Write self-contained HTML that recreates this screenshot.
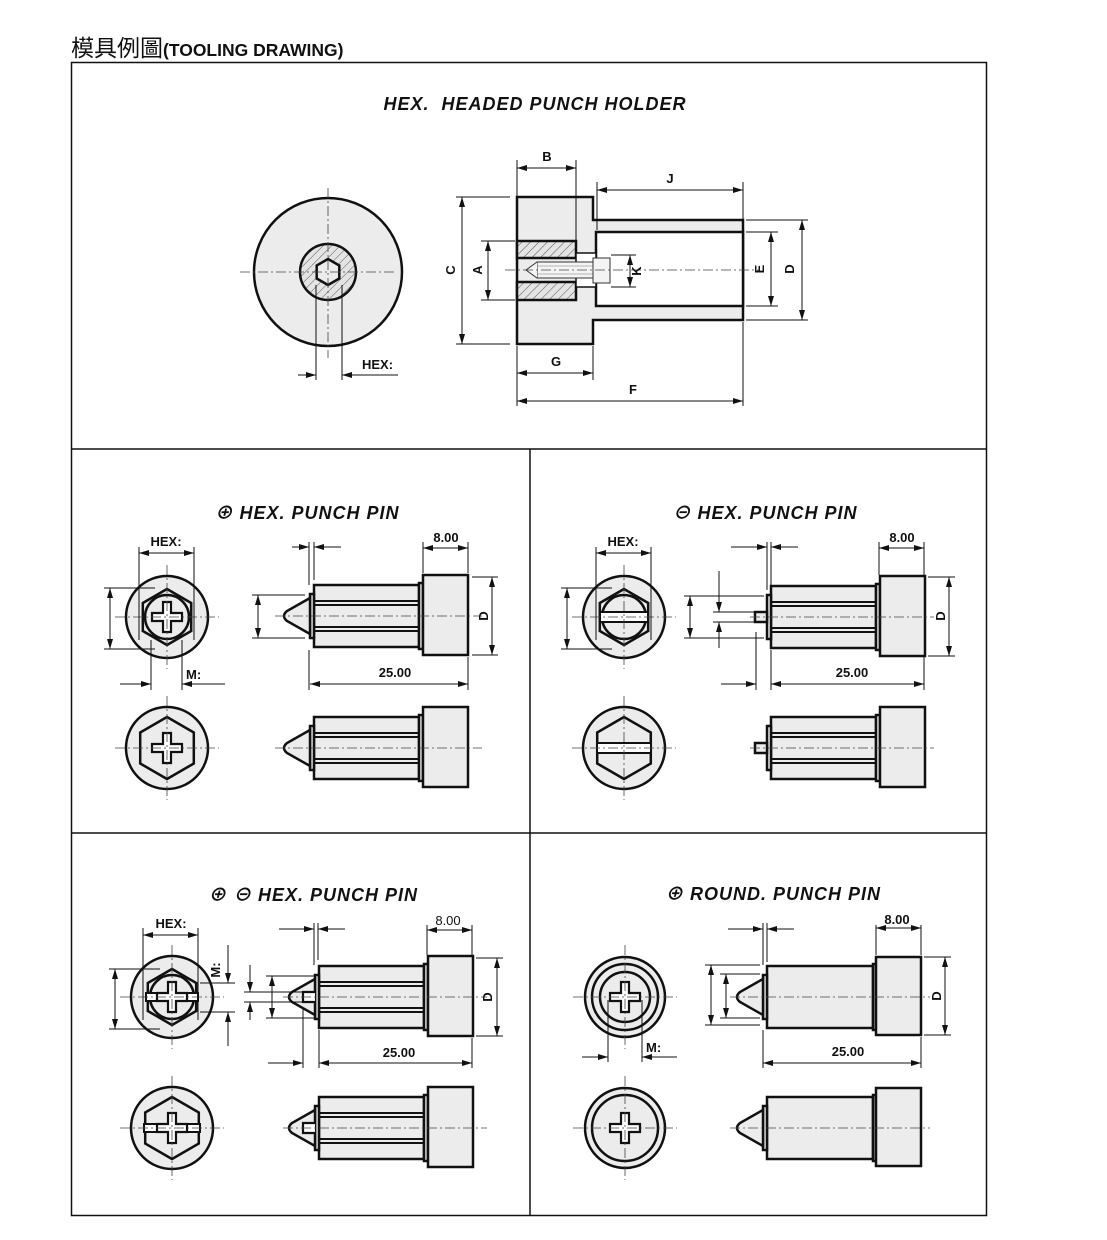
<!DOCTYPE html>
<html><head><meta charset="utf-8"><style>
html,body{margin:0;padding:0;background:#fff;}
svg{display:block;}
text{font-family:"Liberation Sans","Noto Sans CJK TC",sans-serif;font-weight:bold;fill:#111;}
.t{font-size:18px;font-style:italic;letter-spacing:1px;}
.d{font-size:13px;}
.o{stroke:#111;stroke-width:2.5;fill:#ececec;}
.w{stroke:#111;stroke-width:2.5;fill:#fff;}
.g{stroke:#111;stroke-width:1;fill:none;}
.c{stroke:#444;stroke-width:0.8;stroke-dasharray:10 3 2 3;fill:none;}
.a{stroke:#111;stroke-width:1;fill:none;marker-start:url(#ar);marker-end:url(#ar);}
.ae{stroke:#111;stroke-width:1;fill:none;marker-end:url(#ar);}
</style></head><body>
<svg width="1107" height="1240" viewBox="0 0 1107 1240" xmlns="http://www.w3.org/2000/svg">
<defs>
<marker id="ar" viewBox="0 0 10 6" refX="10" refY="3" markerWidth="14" markerHeight="6" markerUnits="userSpaceOnUse" orient="auto-start-reverse"><path d="M0,0 L10,3 L0,6 Z" fill="#111"/></marker>
<pattern id="h" width="6" height="6" patternUnits="userSpaceOnUse" patternTransform="rotate(45)"><rect width="6" height="6" fill="#e4e4e4"/><line x1="0" y1="0" x2="0" y2="6" stroke="#333" stroke-width="0.8"/></pattern>
<path id="cross" d="M-4,-15 H4 V-4 H15 V4 H4 V15 H-4 V4 H-15 V-4 H-4 Z" fill="#fff" stroke="#111" stroke-width="2.2"/>
<g id="body">
<rect class="o" x="0" y="-31" width="105" height="62"/>
<line x1="0" y1="-15" x2="105" y2="-15" stroke="#111" stroke-width="2"/>
<line x1="0" y1="-11" x2="105" y2="-11" stroke="#111" stroke-width="2"/>
<line x1="0" y1="11" x2="105" y2="11" stroke="#111" stroke-width="2"/>
<line x1="0" y1="15" x2="105" y2="15" stroke="#111" stroke-width="2"/>
<rect class="o" x="105" y="-33" width="4" height="66"/>
<rect class="o" x="109" y="-41" width="45" height="80"/>
</g>
<g id="rbody">
<rect class="o" x="0" y="-31" width="106" height="62"/>
<rect class="o" x="106" y="-33" width="3" height="66"/>
<rect class="o" x="109" y="-40" width="45" height="78"/>
</g>
<g id="cone">
<rect class="o" x="-4" y="-22" width="4" height="44"/>
<path class="o" d="M-4,-18 L-27,-5 Q-33,0 -27,5 L-4,18 Z"/>
</g>
<g id="stub">
<rect class="o" x="-4" y="-22" width="4" height="44"/>
<rect class="o" x="-16" y="-5" width="12" height="10"/>
</g>
<g id="conesl">
<rect class="o" x="-4" y="-22" width="4" height="44"/>
<path class="o" d="M-4,-18 L-27,-5 Q-33,0 -27,5 L-4,18 Z"/>
<path d="M-4,-5 H-16 V5 H-4" fill="#fff" stroke="#111" stroke-width="2.2"/>
</g>
<polygon id="hex28" class="o" points="0,-28 24.2,-14 24.2,14 0,28 -24.2,14 -24.2,-14"/>
<polygon id="hex30" class="o" points="0,-31 26.8,-15.5 26.8,15.5 0,31 -26.8,15.5 -26.8,-15.5"/>
<g id="cl"><line class="c" x1="-52" y1="0" x2="52" y2="0"/><line class="c" x1="0" y1="-52" x2="0" y2="52"/></g>
</defs>

<!-- title -->
<text x="71" y="56" style="font-size:23px;font-weight:normal">模具例圖<tspan style="font-size:17.5px;font-weight:bold">(TOOLING DRAWING)</tspan></text>

<!-- frame -->
<rect x="71.5" y="62.5" width="915" height="1153" fill="none" stroke="#111" stroke-width="1.5"/>
<line x1="72" y1="449" x2="986" y2="449" stroke="#111" stroke-width="1.5"/>
<line x1="72" y1="833" x2="986" y2="833" stroke="#111" stroke-width="1.5"/>
<line x1="530" y1="449" x2="530" y2="1216" stroke="#111" stroke-width="1.5"/>

<!-- TOP PANEL -->
<text class="t" x="535" y="110" text-anchor="middle">HEX.&#160; HEADED PUNCH HOLDER</text>
<circle class="o" cx="328" cy="272" r="74"/>
<circle cx="328" cy="272" r="28" fill="url(#h)" stroke="#111" stroke-width="2.5"/>
<polygon class="o" points="328,259 339.3,265.5 339.3,278.5 328,285 316.7,278.5 316.7,265.5" />
<line class="c" x1="240" y1="272" x2="395" y2="272"/><line class="c" x1="328" y1="188" x2="328" y2="358"/>
<line class="g" x1="316" y1="285" x2="316" y2="380"/><line class="g" x1="342" y1="285" x2="342" y2="380"/>
<line class="ae" x1="298" y1="375" x2="316" y2="375"/><line class="ae" x1="398" y1="375" x2="342" y2="375"/>
<text class="d" x="362" y="369">HEX:</text>

<path class="o" d="M517,197 H593 V220 H743 V320 H593 V344 H517 Z"/>
<rect class="w" x="596" y="232" width="147" height="74"/>
<rect x="517" y="241" width="59" height="17" fill="url(#h)" stroke="#111" stroke-width="2.5"/>
<rect x="517" y="282" width="59" height="18" fill="url(#h)" stroke="#111" stroke-width="2.5"/>
<rect class="w" x="576" y="253" width="20" height="34" style="stroke-width:1.5"/>
<rect x="537" y="262" width="56" height="16" fill="#f4f4f4" stroke="#333" stroke-width="1"/>
<line x1="537" y1="266" x2="593" y2="266" stroke="#777" stroke-width="0.6"/><line x1="537" y1="274" x2="593" y2="274" stroke="#777" stroke-width="0.6"/>
<path d="M537,262 L526,270 L537,278" fill="#f4f4f4" stroke="#333" stroke-width="1"/>
<rect x="593" y="258" width="17" height="25" fill="#f4f4f4" stroke="#333" stroke-width="1"/>
<line class="c" x1="505" y1="270" x2="760" y2="270"/>
<!-- dims -->
<line class="g" x1="517" y1="160" x2="517" y2="196"/><line class="g" x1="576" y1="160" x2="576" y2="240"/>
<line class="a" x1="517" y1="168" x2="576" y2="168"/><text class="d" x="547" y="161" text-anchor="middle">B</text>
<line class="g" x1="597" y1="182" x2="597" y2="230"/><line class="g" x1="743" y1="182" x2="743" y2="219"/>
<line class="a" x1="597" y1="190" x2="743" y2="190"/><text class="d" x="670" y="183" text-anchor="middle">J</text>
<line class="g" x1="456" y1="197" x2="510" y2="197"/><line class="g" x1="456" y1="344" x2="510" y2="344"/>
<line class="a" x1="462" y1="197" x2="462" y2="344"/><text class="d" transform="translate(455,270) rotate(-90)" text-anchor="middle">C</text>
<line class="g" x1="481" y1="241" x2="515" y2="241"/><line class="g" x1="481" y1="300" x2="515" y2="300"/>
<line class="a" x1="488" y1="241" x2="488" y2="300"/><text class="d" transform="translate(482,270) rotate(-90)" text-anchor="middle">A</text>
<line class="g" x1="611" y1="255" x2="636" y2="255"/><line class="g" x1="611" y1="287" x2="636" y2="287"/>
<line class="a" x1="630" y1="255" x2="630" y2="287"/><text class="d" transform="translate(641,271) rotate(-90)" text-anchor="middle">K</text>
<line class="g" x1="746" y1="232" x2="778" y2="232"/><line class="g" x1="746" y1="306" x2="778" y2="306"/>
<line class="a" x1="771" y1="232" x2="771" y2="306"/><text class="d" transform="translate(764,269) rotate(-90)" text-anchor="middle">E</text>
<line class="g" x1="746" y1="220" x2="808" y2="220"/><line class="g" x1="746" y1="320" x2="808" y2="320"/>
<line class="a" x1="802" y1="220" x2="802" y2="320"/><text class="d" transform="translate(794,269) rotate(-90)" text-anchor="middle">D</text>
<line class="g" x1="517" y1="346" x2="517" y2="406"/><line class="g" x1="593" y1="346" x2="593" y2="380"/><line class="g" x1="743" y1="322" x2="743" y2="406"/>
<line class="a" x1="517" y1="373" x2="593" y2="373"/><text class="d" x="556" y="366" text-anchor="middle">G</text>
<line class="a" x1="517" y1="401" x2="743" y2="401"/><text class="d" x="633" y="394" text-anchor="middle">F</text>

<!-- PANEL 1: + HEX -->
<text class="t" x="307" y="519" text-anchor="middle">⊕ HEX. PUNCH PIN</text>
<g>
<circle class="o" cx="167" cy="617" r="41"/><use href="#hex28" x="167" y="617"/><circle class="o" cx="167" cy="617" r="22"/><use href="#cross" x="167" y="617"/><use href="#cl" x="167" y="617"/>
<line class="g" x1="139" y1="547" x2="139" y2="640"/><line class="g" x1="194" y1="547" x2="194" y2="640"/>
<line class="a" x1="139" y1="553" x2="194" y2="553"/><text class="d" x="166" y="546" text-anchor="middle">HEX:</text>
<line class="g" x1="104" y1="588" x2="155" y2="588"/><line class="g" x1="104" y1="649" x2="155" y2="649"/>
<line class="a" x1="110" y1="588" x2="110" y2="649"/>
<line class="g" x1="151" y1="640" x2="151" y2="690"/><line class="g" x1="182" y1="640" x2="182" y2="690"/>
<line class="ae" x1="120" y1="684" x2="151" y2="684"/><line class="ae" x1="225" y1="684" x2="182" y2="684"/>
<text class="d" x="186" y="679">M:</text>
<use href="#body" x="314" y="616"/><use href="#cone" x="314" y="616"/>
<line class="c" x1="275" y1="616" x2="482" y2="616"/>
<line class="g" x1="309" y1="542" x2="309" y2="585"/><line class="g" x1="314" y1="542" x2="314" y2="580"/>
<line class="ae" x1="292" y1="547" x2="309" y2="547"/><line class="ae" x1="341" y1="547" x2="314" y2="547"/>
<line class="g" x1="423" y1="542" x2="423" y2="573"/><line class="g" x1="468" y1="542" x2="468" y2="573"/>
<line class="a" x1="423" y1="548" x2="468" y2="548"/><text class="d" x="446" y="542" text-anchor="middle">8.00</text>
<line class="g" x1="472" y1="577" x2="498" y2="577"/><line class="g" x1="472" y1="655" x2="498" y2="655"/>
<line class="a" x1="492" y1="577" x2="492" y2="655"/><text class="d" transform="translate(488,616) rotate(-90)" text-anchor="middle">D</text>
<line class="g" x1="252" y1="595" x2="305" y2="595"/><line class="g" x1="252" y1="638" x2="305" y2="638"/>
<line class="a" x1="258" y1="595" x2="258" y2="638"/>
<line class="g" x1="309" y1="650" x2="309" y2="690"/><line class="g" x1="468" y1="657" x2="468" y2="690"/>
<line class="a" x1="310" y1="684" x2="468" y2="684"/><text class="d" x="395" y="677" text-anchor="middle">25.00</text>
<circle class="o" cx="167" cy="748" r="41"/><use href="#hex30" x="167" y="748"/><use href="#cross" x="167" y="748"/><use href="#cl" x="167" y="748"/>
<use href="#body" x="314" y="748"/><use href="#cone" x="314" y="748"/>
<line class="c" x1="275" y1="748" x2="482" y2="748"/>
</g>

<!-- PANEL 2: - HEX -->
<text class="t" x="765" y="519" text-anchor="middle">⊖ HEX. PUNCH PIN</text>
<g>
<circle class="o" cx="624" cy="617" r="41"/><use href="#hex28" x="624" y="617"/><circle class="o" cx="624" cy="617" r="22"/>
<rect class="w" x="600" y="612" width="48" height="10" style="stroke-width:2"/><use href="#cl" x="624" y="617"/>
<line class="g" x1="596" y1="547" x2="596" y2="640"/><line class="g" x1="651" y1="547" x2="651" y2="640"/>
<line class="a" x1="596" y1="553" x2="651" y2="553"/><text class="d" x="623" y="546" text-anchor="middle">HEX:</text>
<line class="g" x1="561" y1="588" x2="612" y2="588"/><line class="g" x1="561" y1="649" x2="612" y2="649"/>
<line class="a" x1="567" y1="588" x2="567" y2="649"/>
<use href="#body" x="771" y="617"/><use href="#stub" x="771" y="617"/>
<line class="c" x1="750" y1="617" x2="934" y2="617"/>
<line class="g" x1="767" y1="542" x2="767" y2="590"/><line class="g" x1="771" y1="542" x2="771" y2="585"/>
<line class="ae" x1="731" y1="547" x2="767" y2="547"/><line class="ae" x1="798" y1="547" x2="771" y2="547"/>
<line class="g" x1="879" y1="542" x2="879" y2="575"/><line class="g" x1="924" y1="542" x2="924" y2="575"/>
<line class="a" x1="879" y1="548" x2="924" y2="548"/><text class="d" x="902" y="542" text-anchor="middle">8.00</text>
<line class="g" x1="928" y1="577" x2="955" y2="577"/><line class="g" x1="928" y1="656" x2="955" y2="656"/>
<line class="a" x1="949" y1="577" x2="949" y2="656"/><text class="d" transform="translate(945,616) rotate(-90)" text-anchor="middle">D</text>
<line class="g" x1="684" y1="596" x2="764" y2="596"/><line class="g" x1="684" y1="638" x2="764" y2="638"/>
<line class="a" x1="690" y1="596" x2="690" y2="638"/>
<line class="g" x1="713" y1="612" x2="757" y2="612"/><line class="g" x1="713" y1="622" x2="757" y2="622"/>
<line class="ae" x1="719" y1="571" x2="719" y2="612"/><line class="ae" x1="719" y1="648" x2="719" y2="622"/>
<line class="g" x1="756" y1="632" x2="756" y2="690"/><line class="ae" x1="721" y1="684" x2="756" y2="684"/>
<line class="g" x1="771" y1="650" x2="771" y2="690"/><line class="g" x1="924" y1="657" x2="924" y2="690"/>
<line class="a" x1="771" y1="684" x2="924" y2="684"/><text class="d" x="852" y="677" text-anchor="middle">25.00</text>
<circle class="o" cx="624" cy="748" r="41"/><use href="#hex30" x="624" y="748"/>
<rect class="w" x="597" y="743" width="54" height="10" style="stroke-width:2"/><use href="#cl" x="624" y="748"/>
<use href="#body" x="771" y="748"/><use href="#stub" x="771" y="748"/>
<line class="c" x1="750" y1="748" x2="934" y2="748"/>
</g>

<!-- PANEL 3: +- HEX -->
<text class="t" x="313" y="901" text-anchor="middle">⊕ ⊖ HEX. PUNCH PIN</text>
<g>
<circle class="o" cx="172" cy="997" r="41"/><use href="#hex28" x="172" y="997"/><circle class="o" cx="172" cy="997" r="22"/>
<rect class="w" x="146" y="993" width="52" height="8" style="stroke-width:2"/><use href="#cross" x="172" y="997"/><use href="#cl" x="172" y="997"/>
<line class="g" x1="143" y1="928" x2="143" y2="1020"/><line class="g" x1="198" y1="928" x2="198" y2="1020"/>
<line class="a" x1="143" y1="935" x2="198" y2="935"/><text class="d" x="171" y="928" text-anchor="middle">HEX:</text>
<line class="g" x1="109" y1="969" x2="160" y2="969"/><line class="g" x1="109" y1="1029" x2="160" y2="1029"/>
<line class="a" x1="115" y1="969" x2="115" y2="1029"/>
<line class="g" x1="200" y1="983" x2="235" y2="983"/><line class="g" x1="200" y1="1012" x2="235" y2="1012"/>
<line class="ae" x1="228" y1="945" x2="228" y2="983"/><line class="ae" x1="228" y1="1046" x2="228" y2="1012"/>
<text class="d" transform="translate(220,970) rotate(-90)" text-anchor="middle">M:</text>
<use href="#body" x="319" y="997"/><use href="#conesl" x="319" y="997"/>
<line class="c" x1="283" y1="997" x2="487" y2="997"/>
<line class="g" x1="314" y1="923" x2="314" y2="965"/><line class="g" x1="318" y1="923" x2="318" y2="960"/>
<line class="ae" x1="279" y1="929" x2="314" y2="929"/><line class="ae" x1="345" y1="929" x2="318" y2="929"/>
<line class="g" x1="427" y1="925" x2="427" y2="955"/><line class="g" x1="472" y1="925" x2="472" y2="955"/>
<line class="a" x1="427" y1="930" x2="472" y2="930"/><text class="d" x="448" y="925" text-anchor="middle" style="font-weight:normal">8.00</text>
<line class="g" x1="476" y1="958" x2="503" y2="958"/><line class="g" x1="476" y1="1036" x2="503" y2="1036"/>
<line class="a" x1="497" y1="958" x2="497" y2="1036"/><text class="d" transform="translate(492,997) rotate(-90)" text-anchor="middle">D</text>
<line class="g" x1="266" y1="976" x2="315" y2="976"/><line class="g" x1="266" y1="1018" x2="315" y2="1018"/>
<line class="a" x1="272" y1="976" x2="272" y2="1018"/>
<line class="g" x1="244" y1="992" x2="305" y2="992"/><line class="g" x1="244" y1="1002" x2="305" y2="1002"/>
<line class="ae" x1="250" y1="965" x2="250" y2="992"/><line class="ae" x1="250" y1="1020" x2="250" y2="1002"/>
<line class="g" x1="303" y1="1007" x2="303" y2="1068"/><line class="ae" x1="268" y1="1063" x2="303" y2="1063"/>
<line class="g" x1="319" y1="1030" x2="319" y2="1068"/><line class="g" x1="472" y1="1038" x2="472" y2="1068"/>
<line class="a" x1="319" y1="1063" x2="472" y2="1063"/><text class="d" x="399" y="1057" text-anchor="middle">25.00</text>
<circle class="o" cx="172" cy="1128" r="41"/><use href="#hex30" x="172" y="1128"/>
<rect class="w" x="144" y="1124" width="56" height="8" style="stroke-width:2"/><use href="#cross" x="172" y="1128"/><use href="#cl" x="172" y="1128"/>
<use href="#body" x="319" y="1128"/><use href="#conesl" x="319" y="1128"/>
<line class="c" x1="283" y1="1128" x2="487" y2="1128"/>
</g>

<!-- PANEL 4: ROUND -->
<text class="t" x="773" y="900" text-anchor="middle">⊕ ROUND. PUNCH PIN</text>
<g>
<circle class="o" cx="625" cy="997" r="40"/><circle class="o" cx="625" cy="997" r="33"/><circle class="o" cx="625" cy="997" r="25"/>
<use href="#cross" x="625" y="997"/><use href="#cl" x="625" y="997"/>
<line class="g" x1="608" y1="1000" x2="608" y2="1062"/><line class="g" x1="642" y1="1000" x2="642" y2="1062"/>
<line class="ae" x1="582" y1="1057" x2="608" y2="1057"/><line class="ae" x1="677" y1="1057" x2="642" y2="1057"/>
<text class="d" x="646" y="1052">M:</text>
<use href="#rbody" x="767" y="997"/><use href="#cone" x="767" y="997"/>
<line class="c" x1="730" y1="997" x2="930" y2="997"/>
<line class="g" x1="763" y1="923" x2="763" y2="965"/><line class="g" x1="767" y1="923" x2="767" y2="962"/>
<line class="ae" x1="728" y1="929" x2="763" y2="929"/><line class="ae" x1="794" y1="929" x2="767" y2="929"/>
<line class="g" x1="876" y1="925" x2="876" y2="955"/><line class="g" x1="921" y1="925" x2="921" y2="955"/>
<line class="a" x1="876" y1="928" x2="921" y2="928"/><text class="d" x="897" y="924" text-anchor="middle">8.00</text>
<line class="g" x1="924" y1="957" x2="951" y2="957"/><line class="g" x1="924" y1="1035" x2="951" y2="1035"/>
<line class="a" x1="945" y1="957" x2="945" y2="1035"/><text class="d" transform="translate(941,996) rotate(-90)" text-anchor="middle">D</text>
<line class="g" x1="705" y1="965" x2="760" y2="965"/><line class="g" x1="705" y1="1025" x2="760" y2="1025"/>
<line class="a" x1="711" y1="965" x2="711" y2="1025"/>
<line class="g" x1="720" y1="974" x2="760" y2="974"/><line class="g" x1="720" y1="1018" x2="760" y2="1018"/>
<line class="a" x1="726" y1="974" x2="726" y2="1018"/>
<line class="g" x1="763" y1="1030" x2="763" y2="1068"/><line class="g" x1="921" y1="1037" x2="921" y2="1068"/>
<line class="a" x1="763" y1="1063" x2="921" y2="1063"/><text class="d" x="848" y="1056" text-anchor="middle">25.00</text>
<circle class="o" cx="625" cy="1128" r="40"/><circle class="o" cx="625" cy="1128" r="33"/>
<use href="#cross" x="625" y="1128"/><use href="#cl" x="625" y="1128"/>
<use href="#rbody" x="767" y="1128"/><use href="#cone" x="767" y="1128"/>
<line class="c" x1="730" y1="1128" x2="930" y2="1128"/>
</g>
</svg>
</body></html>
